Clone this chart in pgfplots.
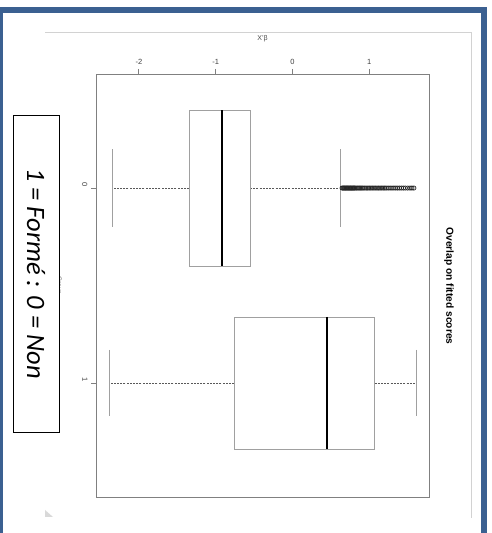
\documentclass[border=0pt]{standalone}
\usepackage{fontspec}
\setmainfont{Liberation Sans}
\newfontfamily\carlito{Carlito}
\usepackage{pgfplots}
\pgfplotsset{compat=1.18}
\usepgfplotslibrary{statistics}
\definecolor{frameblue}{RGB}{59,96,145}
\definecolor{boxgray}{RGB}{160,160,160}
\definecolor{axgray}{RGB}{128,128,128}
\begin{document}
\begin{tikzpicture}[x=1pt,y=1pt]
\path[fill=white,use as bounding box] (0,0) rectangle (491,533);
\draw[gray!35, line width=0.9pt] (45,501) -- (471,501) -- (471,15);
\fill[gray!30] (45,23) -- (45,16) -- (53,16) -- cycle;
\begin{axis}[
  at={(96pt,36pt)}, anchor=south west, scale only axis,
  width=333pt, height=423pt,
  xmin=-2.558, xmax=1.777, ymin=-0.585, ymax=1.585, y dir=reverse,
  axis line style={axgray, line width=0.8pt},
  xtick={-2,-1,0,1}, ytick={0,1},
  xtick pos=right, ytick pos=left, xticklabel pos=right,
  tick align=outside, major tick length=5pt,
  tick style={axgray, line width=0.8pt},
  /pgf/number format/assume math mode=true,
  xticklabel style={font=\fontsize{7.5}{8}\selectfont, text=black!75, yshift=1pt},
  yticklabel style={font=\fontsize{7.5}{8}\selectfont, text=black!75, rotate=-90, xshift=-3pt},
  xlabel={X'β},
  xlabel style={at={(axis description cs:0.5,1)}, anchor=south, yshift=29pt,
    font=\fontsize{7}{8}\selectfont, text=black!70},
  ylabel={Group},
  ylabel style={at={(axis description cs:-0.112,0.5)}, anchor=center,
    rotate=180, font=\fontsize{6.5}{7}\selectfont, text=black!60},
  boxplot/every box/.style={draw=boxgray, line width=0.9pt},
  boxplot/every median/.style={draw=black, line width=1.6pt},
  boxplot/every whisker/.style={draw=black!65, dash pattern=on 2pt off 1.2pt, line width=0.6pt},
]
\addplot[mark=o, mark size=2.1pt, mark options={black!85, line width=0.7pt},
  boxplot prepared={lower whisker=-2.344, lower quartile=-1.344, median=-0.916,
    upper quartile=-0.552, upper whisker=0.63, draw position=0,
    box extend=0.8, whisker extend=0}]
  coordinates {(0,0.645) (0,0.655) (0,0.665) (0,0.675) (0,0.685) (0,0.695) (0,0.705)
   (0,0.715) (0,0.725) (0,0.735) (0,0.745) (0,0.755) (0,0.765) (0,0.775) (0,0.785)
   (0,0.795) (0,0.805) (0,0.815) (0,0.83) (0,0.845) (0,0.86) (0,0.875) (0,0.89)
   (0,0.905) (0,0.92) (0,0.94) (0,0.96) (0,0.98) (0,1.00) (0,1.02) (0,1.04)
   (0,1.06) (0,1.08) (0,1.10) (0,1.12) (0,1.14) (0,1.16) (0,1.18) (0,1.20)
   (0,1.22) (0,1.245) (0,1.27) (0,1.295) (0,1.32) (0,1.345) (0,1.37) (0,1.395)
   (0,1.42) (0,1.445) (0,1.47) (0,1.50) (0,1.53) (0,1.555) (0,1.58)};
\addplot[mark=o, mark size=2pt, mark options={black, line width=0.6pt},
  boxplot prepared={lower whisker=-2.38, lower quartile=-0.76, median=0.45,
    upper quartile=1.07, upper whisker=1.61, draw position=1,
    box extend=0.677, whisker extend=0}]
  coordinates {};
\addplot[boxgray, line width=0.9pt] coordinates {(-2.344,-0.2) (-2.344,0.2)};
\addplot[boxgray, line width=0.9pt] coordinates {(0.63,-0.2) (0.63,0.2)};
\addplot[boxgray, line width=0.9pt] coordinates {(-2.38,0.83) (-2.38,1.17)};
\addplot[boxgray, line width=0.9pt] coordinates {(1.61,0.83) (1.61,1.17)};
\end{axis}
\node[draw=black, line width=0.8pt, fill=white, inner sep=0pt,
  minimum width=317pt, minimum height=46pt, rotate=-90,
  font=\carlito\itshape\fontsize{26.5}{30}\selectfont] at (36,259.5)
  {1 = Formé : 0 = Non};
\node[rotate=-90, font=\bfseries\fontsize{10.2}{12}\selectfont] at (449,247)
  {Overlap on fitted scores};
\draw[frameblue, line width=6pt] (0,-10) -- (0,523) -- (484,523) -- (484,-10);
\end{tikzpicture}
\end{document}
